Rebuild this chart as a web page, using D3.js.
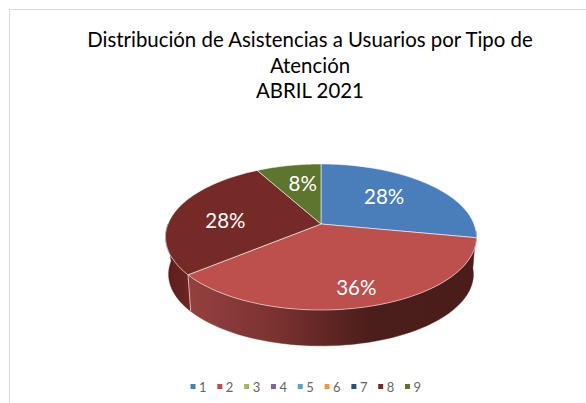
<!DOCTYPE html>
<html><head><meta charset="utf-8">
<script src="https://cdn.jsdelivr.net/npm/d3@7"></script>
<style>html,body{margin:0;padding:0;background:#fff}svg{display:block}</style>
</head><body><svg id="c" width="586" height="403"></svg>
<script>
const categories = ["1","2","3","4","5","6","7","8","9"];
const values = [28,36,0,0,0,0,0,28,8];
const colors = ["#4a7ebb","#bd4f4c","#9bbb59","#8064a2","#4bacc6","#f79646","#2c4d75","#752a28","#5e752e"];
const titleLines = ["Distribución de Asistencias a Usuarios por Tipo de","Atención","ABRIL 2021"];
const labelText = {"1":"28%","2":"36%","8":"28%","9":"8%"};

const svg = d3.select("#c");
const W=586,H=403;
const cx=321, ay=224, R=153, Rs=70.7, k=-0.178, depth=37.5, lowerScale=0.98;
const proj=(a,r=1,dy=0,s=1)=>{
  const X=Math.sin(a)*r, Y=-Math.cos(a)*r, d=1+k*Y;
  return [cx+s*R*X/d, ay+dy+s*Rs*Y/d];
};
const color=d3.scaleOrdinal(categories,colors);
const pie=d3.pie().sort(null).value(d=>d.v);
const arcs=pie(categories.map((c,i)=>({c,v:values[i]})));
const line=d3.line();
const rim=(a0,a1,dy=0,s=1)=>d3.range(0,61).map(i=>proj(a0+(a1-a0)*i/60,1,dy,s));

// frame
svg.append("path").attr("d",`M${W},9.5H9.5V${H}`).attr("fill","none").attr("stroke","#d9d9d9");

// walls
const defs=svg.append("defs");
const g2=defs.append("linearGradient").attr("id","wallRed").attr("gradientUnits","userSpaceOnUse")
  .attr("x1",188).attr("x2",478).attr("y1",0).attr("y2",0);
[[0,"#94413f"],[.3,"#7a3230"],[.62,"#4c1e1b"],[1,"#4a1c1a"]].forEach(s=>g2.append("stop").attr("offset",s[0]).attr("stop-color",s[1]));
const g8=defs.append("linearGradient").attr("id","wallMaroon").attr("gradientUnits","userSpaceOnUse")
  .attr("x1",166).attr("x2",190).attr("y1",0).attr("y2",0);
[[0,"#5a1c1a"],[1,"#6e2624"]].forEach(s=>g8.append("stop").attr("offset",s[0]).attr("stop-color",s[1]));
const wall=(a0,a1,fill)=>{
  const pts=rim(a0,a1).concat(rim(a0,a1,depth,lowerScale).reverse());
  svg.append("path").attr("d",line(pts)+"Z").attr("fill",fill).attr("stroke",fill).attr("stroke-width",.5);
};
const aRed=arcs[1], aMar=arcs[7];
wall(Math.PI*0.53,aRed.endAngle,"url(#wallRed)");
wall(aMar.startAngle,Math.PI*1.5,"url(#wallMaroon)");
// edge between red and maroon wall
const e0=proj(aRed.endAngle), e1=proj(aRed.endAngle,1,depth,lowerScale);
svg.append("line").attr("x1",e0[0]).attr("y1",e0[1]).attr("x2",e1[0]).attr("y2",e1[1]).attr("stroke","#d8b8b6").attr("stroke-width",1);

// top slices
arcs.filter(d=>d.value>0).forEach(d=>{
  const pts=[proj(0,0)].concat(rim(d.startAngle,d.endAngle));
  svg.append("path").attr("d",line(pts)+"Z").attr("fill",color(d.data.c))
    .attr("stroke","#ffffff").attr("stroke-opacity",.55).attr("stroke-width",1).attr("stroke-linejoin","round");
});

// data labels: radial fraction, then small pixel nudges
const labelPlace={"1":[.58,-1,-3],"2":[.8,0,-1],"8":[.65,0,4],"9":[.65,4,-1]};
arcs.filter(d=>d.value>0).forEach(d=>{
  const p=labelPlace[d.data.c], m=(d.startAngle+d.endAngle)/2, q=proj(m,p[0],p[2]);
  svg.append("text").attr("x",q[0]+p[1]).attr("y",q[1]).attr("text-anchor","middle").attr("dominant-baseline","central")
    .attr("font-family","Lato, sans-serif").attr("font-size",20.5).attr("fill","#fff").text(labelText[d.data.c]);
});

// title
const tY=d3.scalePoint().domain(titleLines).range([47,98]);
svg.selectAll("text.t").data(titleLines).join("text").attr("class","t")
  .attr("x",310).attr("y",d=>tY(d)).attr("text-anchor","middle")
  .attr("font-family","Lato, sans-serif").attr("font-size",20.4).attr("fill","#000").text(d=>d);

// legend
const lx=d3.scalePoint().domain(categories).range([193,407.5]);
const lg=svg.selectAll("g.l").data(categories).join("g").attr("class","l").attr("transform",d=>`translate(${lx(d)},386.5)`);
lg.append("rect").attr("x",-2.5).attr("y",-2.5).attr("width",5).attr("height",5).attr("fill",d=>color(d));
lg.append("text").attr("x",6).attr("y",0).attr("dominant-baseline","central").attr("font-family","Lato, sans-serif")
  .attr("font-size",13).attr("fill","#666").text(d=>d);
</script></body></html>
